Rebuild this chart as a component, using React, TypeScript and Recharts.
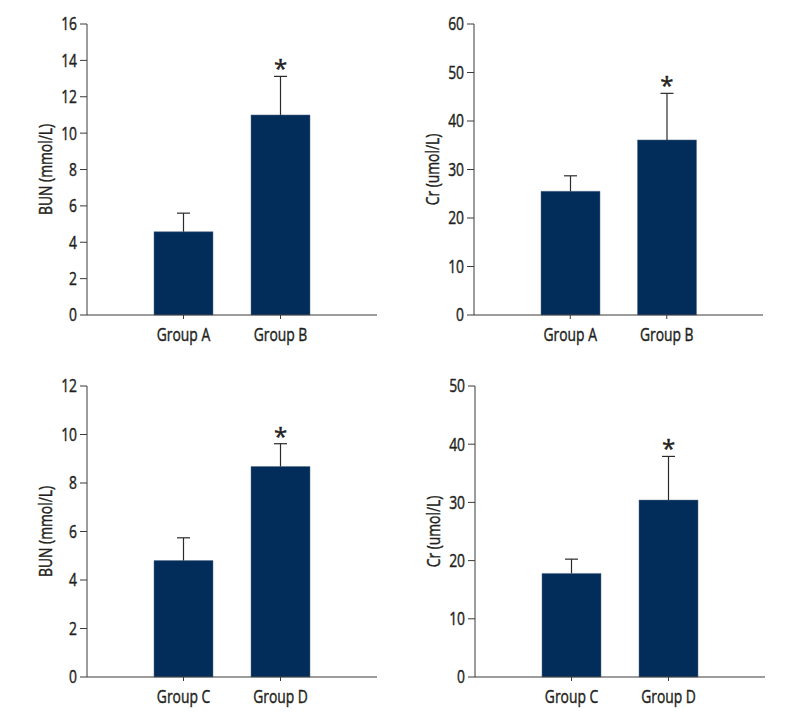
import React from 'react';
import { BarChart, Bar, XAxis, YAxis, ReferenceDot } from 'recharts';

const groupsTop = ['Group A', 'Group B'];
const groupsBottom = ['Group C', 'Group D'];

const bunTop = [4.58, 11.0];
const bunTopErr = [1.02, 2.12];
const crTop = [25.5, 36.1];
const crTopErr = [3.2, 9.6];
const bunBottom = [4.8, 8.68];
const bunBottomErr = [0.94, 0.94];
const crBottom = [17.8, 30.4];
const crBottomErr = [2.45, 7.5];

const bunTopTicks = [0, 2, 4, 6, 8, 10, 12, 14, 16];
const crTopTicks = [0, 10, 20, 30, 40, 50, 60];
const bunBottomTicks = [0, 2, 4, 6, 8, 10, 12];
const crBottomTicks = [0, 10, 20, 30, 40, 50];

const FONT = "'Open Sans', 'DejaVu Sans', sans-serif";
const FS = 19;
const FW = 400;
const SX = 0.73;
const TEXT = '#231f20';
const AXIS = '#3a3a3a';
const BAR = '#022d5a';
const TSTROKE = { stroke: TEXT, strokeWidth: 0.45 };

function XTick(props: any) {
  const { x, y, payload } = props;
  return (
    <g transform={`translate(${x},${y})`}>
      <text transform={`scale(${SX},1)`} textAnchor="middle" dy={FS * 0.7} fill={TEXT} {...TSTROKE} fontSize={FS} fontWeight={FW} fontFamily={FONT}>
        {payload.value}
      </text>
    </g>
  );
}

function YTick(props: any) {
  const { x, y, payload } = props;
  return (
    <g transform={`translate(${x},${y})`}>
      <text transform={`scale(${SX},1)`} textAnchor="end" dy={FS * 0.34} fill={TEXT} {...TSTROKE} fontSize={FS} fontWeight={FW} fontFamily={FONT}>
        {payload.value}
      </text>
    </g>
  );
}

function ErrShape(props: any) {
  const { x, y, width, height } = props;
  const cx = x + width / 2;
  return (
    <g>
      <line x1={cx} y1={y + height} x2={cx} y2={y} stroke="#2a2a2a" strokeWidth={1.2} />
      <line x1={cx - 6.5} y1={y} x2={cx + 6.5} y2={y} stroke="#2a2a2a" strokeWidth={1.2} />
    </g>
  );
}

function StarLabel(props: any) {
  const { viewBox } = props;
  const cx = viewBox.x + (viewBox.width || 0) / 2;
  const cy = viewBox.y;
  return (
    <g transform={`translate(${cx},${cy})`}>
      <text textAnchor="middle" dy={1} fill={TEXT} {...TSTROKE} fontSize={24} fontWeight={FW} fontFamily={FONT}>
        *
      </text>
    </g>
  );
}

type PanelProps = {
  left: number;
  top: number;
  cats: string[];
  values: number[];
  errs: number[];
  ticks: number[];
  label: string;
  star: number;
  margin: { top: number; right: number; bottom: number; left: number };
};

function Panel({ left, top, cats, values, errs, ticks, label, star, margin }: PanelProps) {
  const data = cats.map((c, i) => ({ name: c, value: values[i], err: errs[i] }));
  const maxT = ticks[ticks.length - 1];
  const axisX = margin.left + 60;
  const plotTop = margin.top;
  const plotBottom = 360 - margin.bottom - 30;
  const labelX = axisX - 42;
  const labelY = (plotTop + plotBottom) / 2;
  return (
    <div style={{ position: 'absolute', left, top }}>
      <BarChart width={400} height={360} data={data} margin={margin} barCategoryGap={0}>
        <XAxis
          dataKey="name"
          padding={{ left: 48, right: 48 }}
          axisLine={{ stroke: AXIS, strokeWidth: 1 }}
          tickLine={{ stroke: AXIS }}
          tickSize={4}
          tickMargin={9}
          height={30}
          tick={<XTick />}
        />
        <YAxis
          domain={[0, maxT]}
          ticks={ticks}
          interval={0}
          width={60}
          axisLine={{ stroke: AXIS, strokeWidth: 1 }}
          tickLine={{ stroke: AXIS }}
          tickSize={7}
          tickMargin={3}
          tick={<YTick />}
        />
        <Bar dataKey="value" stackId="s" fill={BAR} stroke="#5a6f88" strokeWidth={0.5} barSize={59} isAnimationActive={false} />
        <Bar dataKey="err" stackId="s" fill="none" barSize={59} shape={<ErrShape />} isAnimationActive={false} />
        <ReferenceDot x={cats[1]} y={star} r={0} fill="none" stroke="none" label={<StarLabel />} />
      </BarChart>
      <svg width={400} height={360} style={{ position: 'absolute', left: 0, top: 0, pointerEvents: 'none' }}>
        <g transform={`translate(${labelX},${labelY}) rotate(-90)`}>
          <text transform={`scale(${SX},1)`} textAnchor="middle" dy={FS * 0.36} fill={TEXT} {...TSTROKE} fontSize={FS} fontWeight={FW} fontFamily={FONT}>
            {label}
          </text>
        </g>
      </svg>
    </div>
  );
}

export default function App() {
  return (
    <div style={{ position: 'absolute', left: 0, top: 0, width: 800, height: 720, background: '#fff' }}>
      <Panel
        left={0}
        top={0}
        cats={groupsTop}
        values={bunTop}
        errs={bunTopErr}
        ticks={bunTopTicks}
        label="BUN (mmol/L)"
        star={bunTop[1] + bunTopErr[1]}
        margin={{ top: 24, right: 23, bottom: 15, left: 27 }}
      />
      <Panel
        left={400}
        top={0}
        cats={groupsTop}
        values={crTop}
        errs={crTopErr}
        ticks={crTopTicks}
        label="Cr (umol/L)"
        star={crTop[1] + crTopErr[1]}
        margin={{ top: 24, right: 37, bottom: 15, left: 14 }}
      />
      <Panel
        left={0}
        top={360}
        cats={groupsBottom}
        values={bunBottom}
        errs={bunBottomErr}
        ticks={bunBottomTicks}
        label="BUN (mmol/L)"
        star={bunBottom[1] + bunBottomErr[1]}
        margin={{ top: 26, right: 23, bottom: 13, left: 27 }}
      />
      <Panel
        left={400}
        top={360}
        cats={groupsBottom}
        values={crBottom}
        errs={crBottomErr}
        ticks={crBottomTicks}
        label="Cr (umol/L)"
        star={crBottom[1] + crBottomErr[1]}
        margin={{ top: 26, right: 35, bottom: 13, left: 15 }}
      />
    </div>
  );
}
